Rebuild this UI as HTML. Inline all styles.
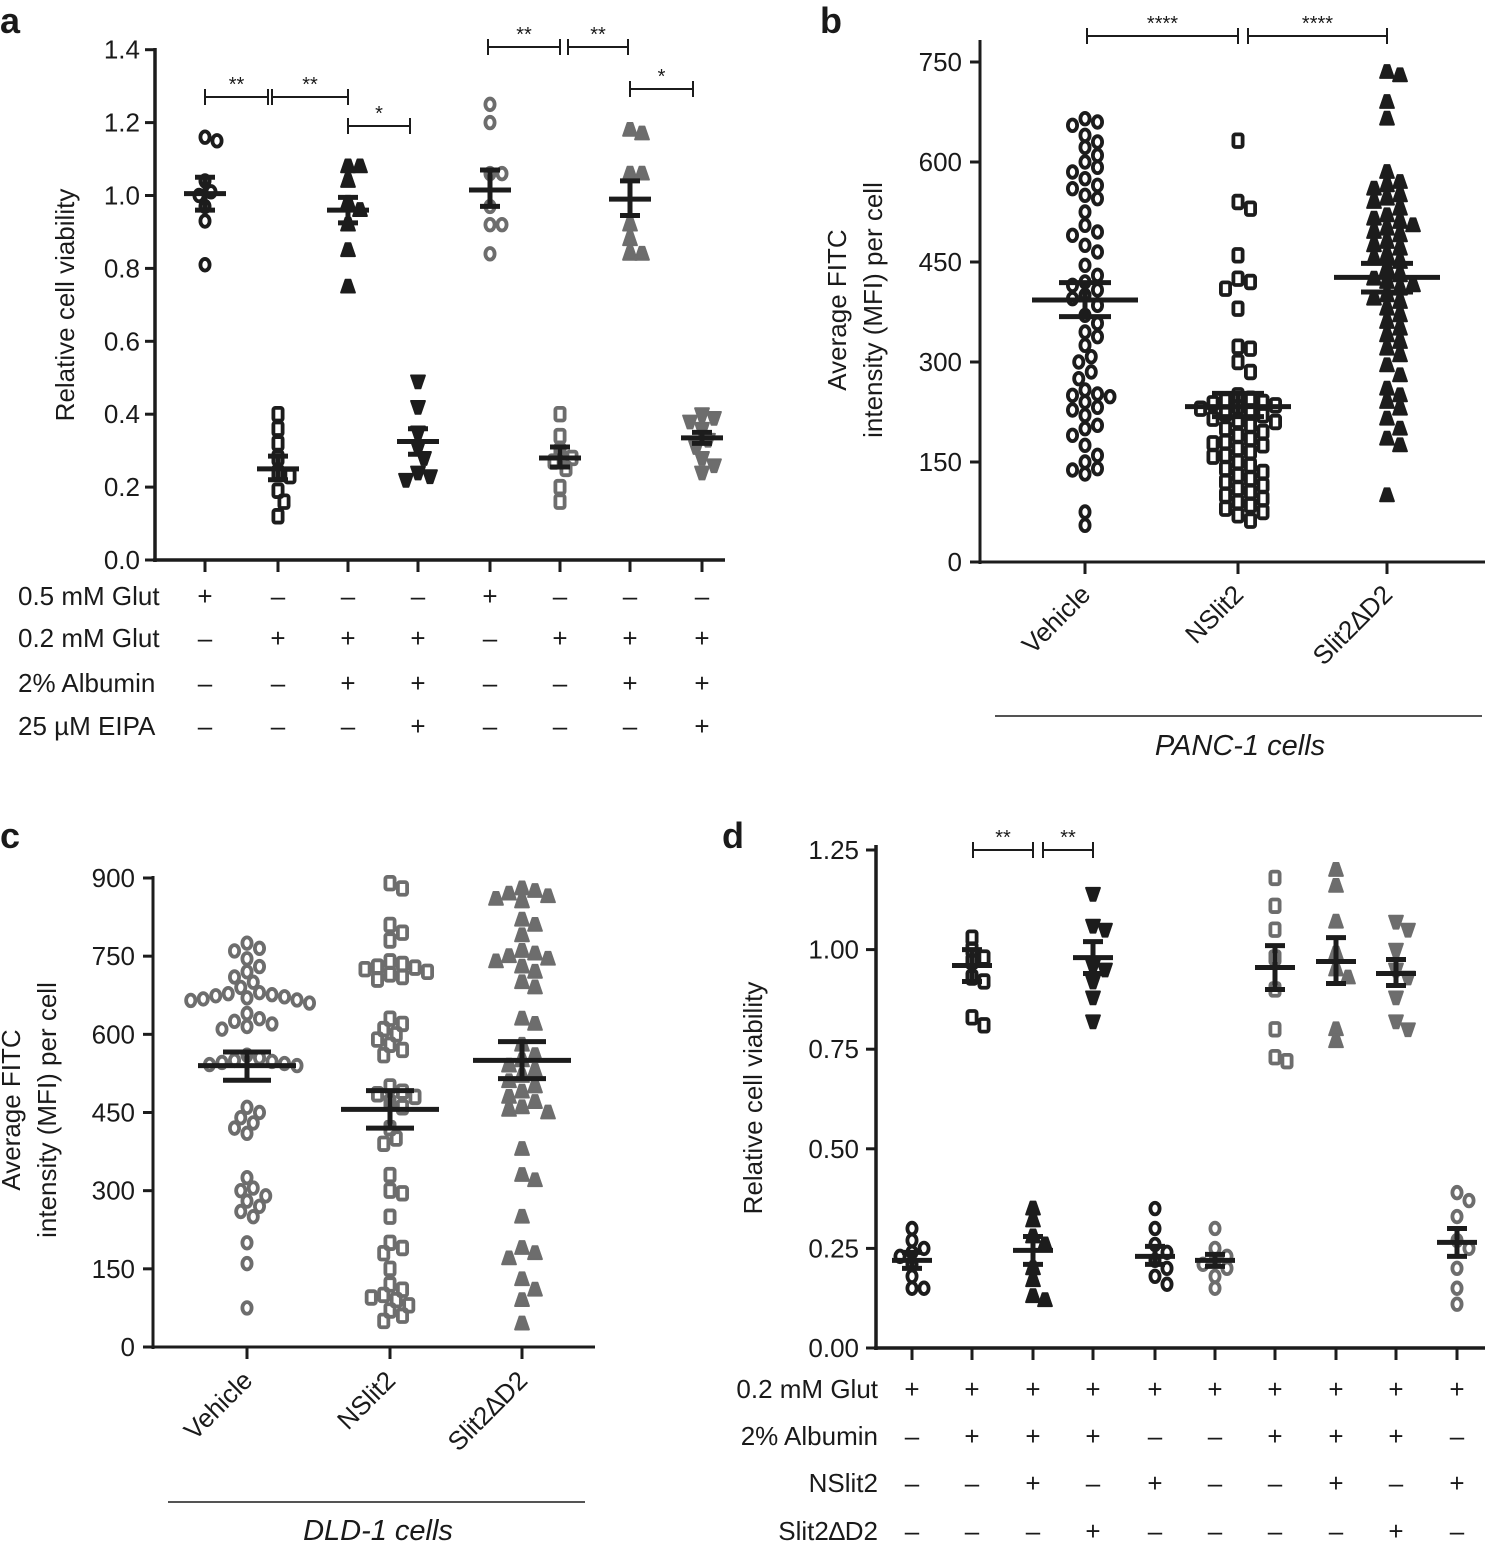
<!DOCTYPE html>
<html><head><meta charset="utf-8"><style>
html,body{margin:0;padding:0;background:#fff}
svg{display:block}
text{font-family:"Liberation Sans",sans-serif;fill:#1a1a1a}
</style></head><body>
<svg id="s" width="1501" height="1546" viewBox="0 0 1501 1546" xmlns="http://www.w3.org/2000/svg"></svg>
<script>
const S=document.getElementById('s');let h='';
const BK='#1c1c1c',GR='#6d6d6d';
function T(x,y,t,o){o=o||{};h+=`<text x="${x}" y="${y}" font-size="${o.fs||26}" text-anchor="${o.a||'start'}" ${o.w?'font-weight="bold"':''} ${o.i?'font-style="italic"':''} ${o.tr?'transform="'+o.tr+'"':''}>${t}</text>`;}
function L(x1,y1,x2,y2,w,c){h+=`<line x1="${x1}" y1="${y1}" x2="${x2}" y2="${y2}" stroke="${c||BK}" stroke-width="${w||3}"/>`;}
function M(type,x,y,c){
 if(type=='o')h+=`<ellipse cx="${x}" cy="${y}" rx="4.6" ry="5.8" fill="none" stroke="${c}" stroke-width="3.8"/>`;
 else if(type=='s')h+=`<rect x="${x-4.6}" y="${y-6.3}" width="9.2" height="12.6" rx="2" fill="none" stroke="${c}" stroke-width="3.8"/>`;
 else if(type=='u')h+=`<path d="M${x-2.5},${y-7} L${x+2.5},${y-7} L${x+7},${y+6} L${x-7},${y+6}Z" fill="${c}" stroke="${c}" stroke-width="1.8" stroke-linejoin="round"/>`;
 else h+=`<path d="M${x-7},${y-6} L${x+7},${y-6} L${x+2.5},${y+7} L${x-2.5},${y+7}Z" fill="${c}" stroke="${c}" stroke-width="1.8" stroke-linejoin="round"/>`;
}
function swarm(vals,fy,cx,type,c,d){d=d||12;const P=[];
 vals.forEach(v=>{const y=fy(v);for(let k=0;k<40;k++){const off=(k%2?1:-1)*Math.ceil(k/2)*d/2;const x=cx+off;
  if(P.every(p=>(p[0]-x)**2+(p[1]-y)**2>=d*d*0.9)){P.push([x,y]);break;}}});
 P.forEach(p=>M(type,p[0],p[1],c));}
function meanbar(cx,fy,m,lo,hi,wm,we){L(cx-wm,fy(m),cx+wm,fy(m),5);L(cx,fy(lo),cx,fy(hi),5);L(cx-we,fy(lo),cx+we,fy(lo),5);L(cx-we,fy(hi),cx+we,fy(hi),5);}
function br(x1,x2,y,s){L(x1,y,x2,y,2);L(x1,y-8,x1,y+8,2);L(x2,y-8,x2,y+8,2);T((x1+x2)/2,y-6,s,{fs:20,a:'middle'});}
function pm(x,y,s){T(x,y,s=='+'?'+':'–',{a:'middle',fs:26});}

// ---- Panel a
T(0,33,'a',{fs:36,w:1});
let fa=v=>560-v*364.5;
L(155,48,155,562,3.5);L(153,560,725,560,3.5);
[0,0.2,0.4,0.6,0.8,1.0,1.2,1.4].forEach(v=>{L(145,fa(v),155,fa(v),3);T(140,fa(v)+9,v.toFixed(1),{a:'end'});});
const ax=[205,278,348,418,490,560,630,702];
ax.forEach(x=>L(x,560,x,572,3));
T(74,305,'Relative cell viability',{a:'middle',tr:'rotate(-90 74 305)'});
const ad=[
['o',BK,[1.16,1.15,1.04,1.01,1.0,0.97,0.93,0.81],1.005,0.96,1.05],
['s',BK,[0.40,0.36,0.32,0.28,0.24,0.23,0.19,0.16,0.12],0.25,0.22,0.285],
['u',BK,[1.08,1.08,1.04,0.98,0.96,0.92,0.85,0.75],0.96,0.925,0.995],
['d',BK,[0.49,0.42,0.35,0.31,0.28,0.24,0.23,0.22],0.325,0.29,0.36],
['o',GR,[1.25,1.2,1.06,1.06,0.97,0.92,0.92,0.84],1.015,0.97,1.07],
['s',GR,[0.40,0.34,0.30,0.28,0.27,0.25,0.20,0.16],0.28,0.255,0.31],
['u',GR,[1.18,1.17,1.06,1.06,0.92,0.88,0.84,0.84],0.99,0.945,1.04],
['d',GR,[0.40,0.39,0.38,0.36,0.33,0.31,0.28,0.26,0.24],0.335,0.32,0.35]];
ad.forEach((g,i)=>{swarm(g[2],fa,ax[i],g[0],g[1],12);meanbar(ax[i],fa,g[3],g[4],g[5],21,10);});
br(205,268,97,'**');br(272,348,97,'**');br(348,410,126,'*');br(488,560,47,'**');br(568,628,47,'**');br(630,693,89,'*');
const arows=[['0.5 mM Glut','+---+---'],['0.2 mM Glut','-+++-+++'],['2% Albumin','--++--++'],['25 µM EIPA','---+---+']];
[605,647,692,735].forEach((y,r)=>{T(18,y,arows[r][0]);[...arows[r][1]].forEach((c,i)=>pm(ax[i],y,c));});

// ---- Panel b
T(820,33,'b',{fs:36,w:1});
let fb=v=>562-v*(500/750);
L(980,40,980,564,3);L(978,562,1485,562,3);
[0,150,300,450,600,750].forEach(v=>{L(970,fb(v),980,fb(v),3);T(962,fb(v)+9,v,{a:'end'});});
const bx=[1085,1238,1387];bx.forEach(x=>L(x,562,x,574,3));
T(846,310,'Average FITC',{a:'middle',tr:'rotate(-90 846 310)'});
T(882,310,'intensity (MFI) per cell',{a:'middle',tr:'rotate(-90 882 310)'});
[['Vehicle',1092],['NSlit2',1245],['Slit2∆D2',1394]].forEach(a=>T(a[1],596,a[0],{a:'end',tr:`rotate(-45 ${a[1]} 596)`}));
L(995,716,1482,716,1.5);T(1240,755,'PANC-1 cells',{a:'middle',i:1,fs:29});
br(1087,1238,36,'****');br(1248,1387,36,'****');
const vb1=[665,660,655,640,630,622,610,600,592,585,575,565,560,550,545,525,505,495,490,475,465,445,430,420,415,408,400,395,385,370,358,345,338,325,308,300,285,275,258,252,250,248,240,232,228,220,205,200,190,175,160,150,140,138,132,75,55];
const vb2=[632,540,530,460,425,420,410,380,323,320,300,285,250,245,242,240,238,235,232,230,225,222,220,215,212,210,205,200,195,190,185,180,178,175,170,165,160,158,150,145,140,135,130,125,120,115,110,105,100,95,90,85,80,75,70,62];
const vb3=[735,730,690,665,585,570,565,560,550,545,540,530,520,515,510,505,500,495,490,480,475,470,460,455,450,440,430,425,420,415,410,400,395,390,380,370,360,350,340,330,320,310,295,280,260,250,240,230,215,200,185,175,100];
swarm(vb1,fb,bx[0],'o',BK,12.5);swarm(vb2,fb,bx[1],'s',BK,12.5);swarm(vb3,fb,bx[2],'u',BK,13);
meanbar(bx[0],fb,393,368,419,53,26);meanbar(bx[1],fb,233,218,253,53,26);meanbar(bx[2],fb,427,405,448,53,26);

// ---- Panel c
T(0,848,'c',{fs:36,w:1});
let fc=v=>1347-v*(469/900);
L(153,876,153,1349,3);L(151,1347,595,1347,3);
[0,150,300,450,600,750,900].forEach(v=>{L(143,fc(v),153,fc(v),3);T(135,fc(v)+9,v,{a:'end'});});
const cx=[247,390,522];cx.forEach(x=>L(x,1347,x,1359,3));
T(20,1110,'Average FITC',{a:'middle',tr:'rotate(-90 20 1110)'});
T(56,1110,'intensity (MFI) per cell',{a:'middle',tr:'rotate(-90 56 1110)'});
[['Vehicle',254],['NSlit2',397],['Slit2∆D2',529]].forEach(a=>T(a[1],1382,a[0],{a:'end',tr:`rotate(-45 ${a[1]} 1382)`}));
L(168,1502,585,1502,1.5);T(378,1540,'DLD-1 cells',{a:'middle',i:1,fs:29});
const vc1=[775,765,760,745,730,720,710,700,690,680,678,676,674,672,670,668,666,665,660,640,630,625,620,615,610,560,555,550,548,546,544,542,540,460,450,440,430,420,410,325,305,300,290,280,270,260,250,200,160,75];
const vc2=[890,880,810,795,780,740,735,730,728,725,720,715,710,705,630,620,610,600,590,580,570,560,500,490,485,480,470,460,420,400,390,330,300,295,250,200,190,180,150,120,110,100,95,90,80,70,60,50];
const vc3=[880,875,870,865,860,855,820,810,790,760,755,750,745,740,730,720,700,690,630,620,580,560,550,540,530,520,510,500,490,480,470,460,455,450,380,330,320,250,190,180,170,130,110,90,45];
swarm(vc1,fc,cx[0],'o',GR,12.5);swarm(vc2,fc,cx[1],'s',GR,12.5);swarm(vc3,fc,cx[2],'u',GR,13);
meanbar(cx[0],fc,540,512,566,49,24);meanbar(cx[1],fc,456,420,492,49,24);meanbar(cx[2],fc,550,515,586,49,24);

// ---- Panel d
T(722,848,'d',{fs:36,w:1});
let fd=v=>1348-v*(498/1.25);
L(876,845,876,1350,3.5);L(874,1348,1485,1348,3.5);
[0,0.25,0.5,0.75,1.0,1.25].forEach(v=>{L(866,fd(v),876,fd(v),3);T(859,fd(v)+9,v.toFixed(2),{a:'end'});});
const dx=[912,972,1033,1093,1155,1215,1275,1336,1396,1457];dx.forEach(x=>L(x,1348,x,1360,3));
T(762,1098,'Relative cell viability',{a:'middle',tr:'rotate(-90 762 1098)'});
br(973,1033,850,'**');br(1043,1093,850,'**');
const dd=[
['o',BK,[.30,.27,.25,.24,.23,.21,.18,.15,.15],.22,.2,.24],
['s',BK,[1.03,1.0,.98,.97,.93,.92,.83,.81],.96,.92,1.0],
['u',BK,[.35,.32,.28,.26,.2,.17,.13,.12],.245,.21,.28],
['d',BK,[1.14,1.06,1.05,.96,.95,.92,.88,.82],.98,.94,1.02],
['o',BK,[.35,.3,.26,.24,.22,.2,.18,.16],.23,.21,.255],
['o',GR,[.30,.25,.23,.22,.21,.2,.18,.15],.22,.205,.235],
['s',GR,[1.18,1.11,1.05,.98,.9,.8,.73,.72],.955,.9,1.01],
['u',GR,[1.2,1.16,1.07,.99,.95,.93,.80,.77],.97,.915,1.03],
['d',GR,[1.07,1.05,1.0,.95,.93,.88,.82,.8],.94,.91,.975],
['o',GR,[.39,.37,.33,.27,.25,.2,.15,.11],.265,.23,.3]];
dd.forEach((g,i)=>{swarm(g[2],fd,dx[i],g[0],g[1],12);meanbar(dx[i],fd,g[3],g[4],g[5],20,10);});
const drows=[['0.2 mM Glut','++++++++++'],['2% Albumin','-+++--+++-'],['NSlit2','--+-+--+-+'],['Slit2∆D2','---+----+-']];
[1398,1445,1492,1540].forEach((y,r)=>{T(878,y,drows[r][0],{a:'end'});[...drows[r][1]].forEach((c,i)=>pm(dx[i],y,c));});

S.innerHTML=h;
</script>
</body></html>
